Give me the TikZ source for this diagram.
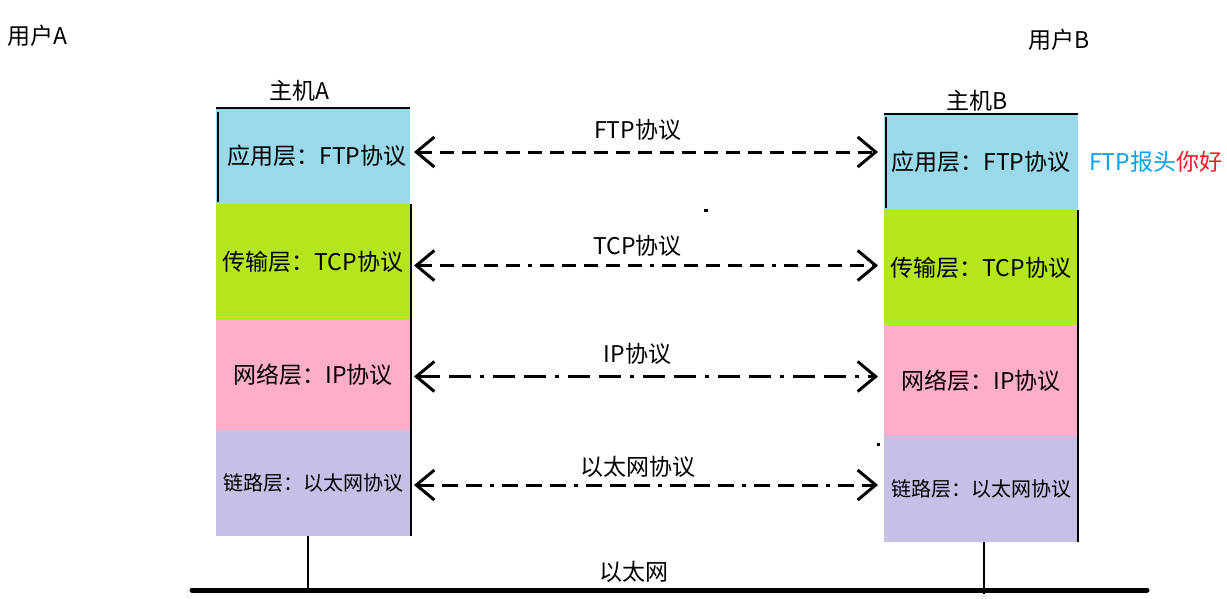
\documentclass[tikz,border=0pt]{standalone}
\usepackage{fontspec}
\setmainfont{Noto Sans CJK SC}
\usetikzlibrary{positioning,arrows.meta}

\definecolor{appblue}{HTML}{99D9EA}
\definecolor{tcpgreen}{HTML}{B5E61D}
\definecolor{ippink}{HTML}{FFAEC9}
\definecolor{linkviolet}{HTML}{C8BFE7}
\definecolor{hdrblue}{HTML}{00A2E8}
\definecolor{hdrred}{HTML}{ED1C24}

\begin{document}
\begin{tikzpicture}[x=1pt, y=-1pt,
    layer/.style={minimum width=194pt, inner sep=0pt, outer sep=0pt, font=\fontsize{23}{26}\selectfont},
    applayer/.style={layer, fill=appblue, minimum height=96pt},
    tcplayer/.style={layer, fill=tcpgreen, minimum height=115pt},
    iplayer/.style={layer, fill=ippink, minimum height=111pt},
    linklayer/.style={layer, fill=linkviolet, minimum height=106pt, font=\fontsize{20}{23}\selectfont},
    label/.style={inner sep=0pt, font=\fontsize{23}{26}\selectfont},
    edge/.style={line width=1.3pt},
    proto/.style={line width=3pt, >={Straight Barb[length=18pt, width=30pt]}, <->, shorten <=4pt, shorten >=6pt},
    bus/.style={line width=5pt, line cap=round}]
    \useasboundingbox (0,0) rectangle (1227,598);

    %Nodes
    \node[label]            (userA)   at (37,36)     {用户A};
    \node[label]            (userB)   at (1059,40)   {用户B};

    \node[applayer, anchor=north west]  (appA)  at (216,108) {\hspace{8pt}应用层：FTP协议};
    \node[tcplayer]         (tcpA)    [below=0pt of appA]  {传输层：TCP协议};
    \node[iplayer]          (ipA)     [below=0pt of tcpA]  {网络层：IP协议};
    \node[linklayer]        (linkA)   [below=0pt of ipA]   {链路层：以太网协议};

    \node[applayer, anchor=north west]  (appB)  at (884,114) {应用层：FTP协议};
    \node[tcplayer]         (tcpB)    [below=0pt of appB]  {传输层：TCP协议};
    \node[iplayer]          (ipB)     [below=0pt of tcpB]  {网络层：IP协议};
    \node[linklayer]        (linkB)   [below=0pt of ipB]   {链路层：以太网协议};

    \node[label]            (hostA)   [above=6pt of appA, xshift=-14pt] {主机A};
    \node[label]            (hostB)   [above=2pt of appB, xshift=-4pt]  {主机B};
    \node[label]            (header)  [right=11pt of appB] {\textcolor{hdrblue}{FTP报头}\textcolor{hdrred}{你好}};

    \coordinate             (busL)    at (192,590);
    \coordinate             (busR)    at (1147,590);
    \node[label]            (ether)   at (634,572)   {以太网};

    %Lines
    \draw[edge] (appA.north west) -- (appA.north east);
    \draw[edge] ([shift={(2,4)}]appA.north west) -- ([shift={(2,-2)}]appA.south west);
    \draw[edge] ([xshift=1pt]tcpA.north east) -- ([xshift=1pt]linkA.south east);
    \draw[edge] (appB.north west) -- (appB.north east);
    \draw[edge] ([shift={(2,3)}]appB.north west) -- ([shift={(2,-2)}]appB.south west);
    \draw[edge] (tcpB.north east) -- (linkB.south east);

    \draw[proto, dash pattern=on 14pt off 8pt]
        ([yshift=4pt]appA.east) -- ([yshift=4pt]appA.east -| appB.west)
        node[label, pos=0.48, above=10pt] {FTP协议};
    \draw[proto, dash pattern=on 14pt off 8pt on 14pt off 8pt on 14pt off 8pt on 14pt off 8pt on 14pt off 8pt on 4pt off 8pt]
        ([yshift=-4pt]tcpA.east) -- ([yshift=-4pt]tcpA.east -| tcpB.west)
        node[label, pos=0.48, above=8pt] {TCP协议};
    \draw[proto, dash pattern=on 22pt off 9pt on 22pt off 9pt on 4pt off 9pt]
        ([yshift=-2pt]ipA.east) -- ([yshift=-2pt]ipA.east -| ipB.west)
        node[label, pos=0.48, above=11pt] {IP协议};
    \draw[proto, dash pattern=on 16pt off 8pt on 16pt off 8pt on 16pt off 8pt on 4pt off 8pt]
        ([yshift=-2pt]linkA.east) -- ([yshift=-2pt]linkA.east -| linkB.west)
        node[label, pos=0.48, above=6pt] {以太网协议};

    \draw[bus] (busL) -- (busR);
    \draw[edge, line width=2pt] ([xshift=-5pt]linkA.south) -- ([xshift=-5pt]linkA.south |- busL);
    \draw[edge, line width=2pt] ([xshift=3pt]linkB.south) -- ([xshift=3pt, yshift=-4pt]linkB.south |- busR);

    %Dots
    \fill (704,209) rectangle (708,212);
    \fill (877,443) rectangle (880,446);
\end{tikzpicture}
\end{document}
